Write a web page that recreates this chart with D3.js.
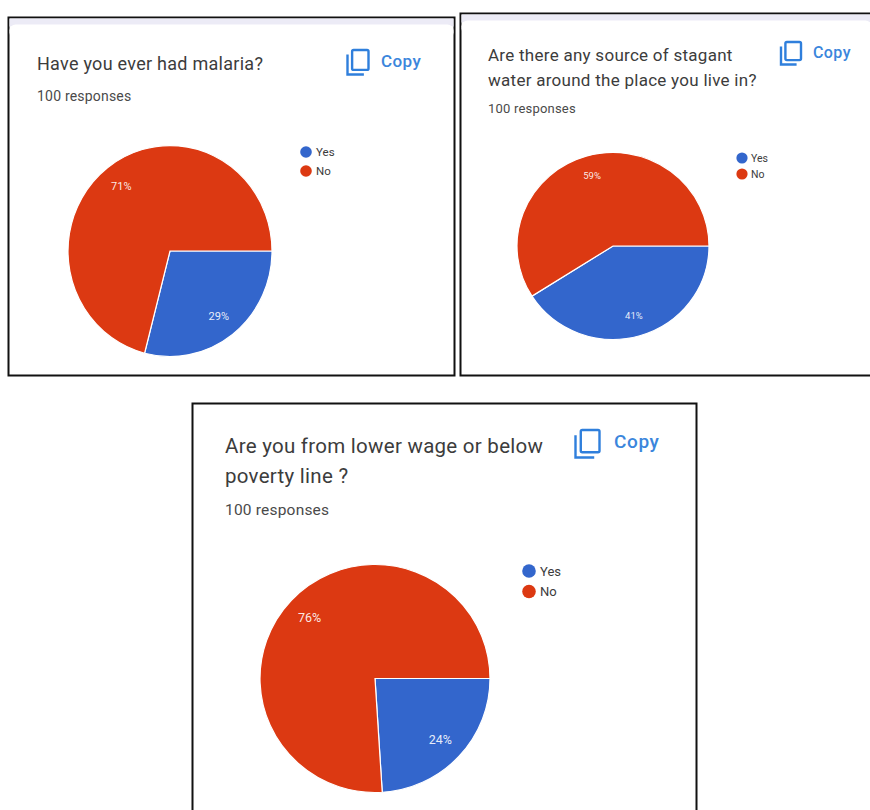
<!DOCTYPE html>
<html>
<head>
<meta charset="utf-8">
<script src="https://cdnjs.cloudflare.com/ajax/libs/d3/7.8.5/d3.min.js"></script>
<style>
html,body{margin:0;padding:0;background:#fff;overflow:hidden}
text{font-family:Roboto,sans-serif}
</style>
</head>
<body>
<svg id="chart" width="870" height="810"></svg>
<script>
// Survey answers, one list per question
const answerLabels = ["Yes", "No"];
const answerColors = ["#3366cc", "#dc3912"];
const malariaValues = [29, 71];
const stagnantValues = [41, 59];
const povertyValues = [24, 76];
const responseCaption = "100 responses";
const malariaTitle = ["Have you ever had malaria?"];
const stagnantTitle = ["Are there any source of stagant", "water around the place you live in?"];
const povertyTitle = ["Are you from lower wage or below", "poverty line ?"];

const panels = [
  {values: malariaValues, title: malariaTitle,
   frame: [8.5, 17.5, 446, 358], band: 8,
   titleX: 37, titleY: [70], titleSize: 18, capY: 101, capSize: 14,
   copy: [347.5, 50, 21, 24.5], copyText: [381, 67], copySize: 17, copySpacing: 0.4,
   pie: [170, 251, 102, 105.5], labelSize: 11,
   legend: [306, 152, 19, 5.8, 316, 11.5]},
  {values: stagnantValues, title: stagnantTitle,
   frame: [460.5, 13.5, 412, 362], band: 8,
   titleX: 488, titleY: [61, 86], titleSize: 17, capY: 113, capSize: 13,
   copy: [781, 42, 20, 22.5], copyText: [813, 58], copySize: 16, copySpacing: 0.4,
   pie: [613, 246, 96, 93.5], labelSize: 9.5,
   legend: [742, 158, 16, 5.6, 751, 10.5]},
  {values: povertyValues, title: povertyTitle,
   frame: [192.5, 403.5, 504, 420], band: 0,
   titleX: 225, titleY: [453, 483], titleSize: 20.5, capY: 515, capSize: 15.5,
   copy: [575.5, 430, 24, 27.5], copyText: [614, 448], copySize: 19, copySpacing: 0.6,
   pie: [375, 678.5, 115, 114], labelSize: 12.5,
   legend: [529, 571, 20.5, 6.8, 540, 13]}
];

const svg = d3.select("#chart");
const pieLayout = d3.pie().sort(null).startAngle(Math.PI / 2).endAngle(Math.PI * 2.5);
const unitArc = d3.arc().innerRadius(0).outerRadius(1);
const labelArc = d3.arc().innerRadius(0.78).outerRadius(0.78);

panels.forEach(p => {
  const g = svg.append("g");
  const [fx, fy, fw, fh] = p.frame;

  // card frame with the pale band above the white sheet
  g.append("rect").attr("x", fx).attr("y", fy).attr("width", fw).attr("height", fh)
    .attr("fill", "#ffffff").attr("stroke", "#111111").attr("stroke-width", 2);
  if (p.band) {
    g.append("rect").attr("x", fx + 1).attr("y", fy + 1).attr("width", fw - 2).attr("height", p.band)
      .attr("fill", "#ecebf6");
    g.append("rect").attr("x", fx + 1).attr("y", fy + p.band - 1).attr("width", fw - 2).attr("height", 14)
      .attr("rx", 6).attr("fill", "#ffffff");
  }

  // heading and caption
  p.title.forEach((line, i) => {
    g.append("text").attr("x", p.titleX).attr("y", p.titleY[i])
      .attr("font-size", p.titleSize).attr("fill", "#3c3c3c").attr("letter-spacing", 0.27).text(line);
  });
  g.append("text").attr("x", p.titleX).attr("y", p.capY)
    .attr("font-size", p.capSize).attr("fill", "#4a4a4a").attr("letter-spacing", 0.2).text(responseCaption);

  // copy icon and its label
  const [cx, cy, cw, ch] = p.copy;
  const inset = cw * 0.22;
  g.append("rect").attr("x", cx + inset).attr("y", cy).attr("width", cw - inset).attr("height", ch - inset)
    .attr("rx", 1.5).attr("fill", "none").attr("stroke", "#2f7fdc").attr("stroke-width", 2.4);
  g.append("path")
    .attr("d", d3.line()([[cx, cy + inset], [cx, cy + ch], [cx + cw - inset, cy + ch]]))
    .attr("fill", "none").attr("stroke", "#2f7fdc").attr("stroke-width", 2.4);
  g.append("text").attr("x", p.copyText[0]).attr("y", p.copyText[1])
    .attr("font-size", p.copySize).attr("letter-spacing", p.copySpacing)
    .attr("font-weight", 500).attr("fill", "#3b86dc").text("Copy");

  // slices are drawn on a unit circle and stretched to the card's pie size
  const [px, py, rx, ry] = p.pie;
  const slices = pieLayout(p.values);
  const pieGroup = g.append("g").attr("transform", `translate(${px},${py}) scale(${rx},${ry})`);
  pieGroup.selectAll("path").data(slices).join("path")
    .attr("d", unitArc)
    .attr("fill", (d, i) => answerColors[i])
    .attr("stroke", "#ffffff").attr("stroke-width", 1.2)
    .attr("vector-effect", "non-scaling-stroke");

  g.selectAll("text.pct").data(slices).join("text").attr("class", "pct")
    .attr("x", d => px + labelArc.centroid(d)[0] * rx)
    .attr("y", d => py + labelArc.centroid(d)[1] * ry)
    .attr("dy", "0.35em").attr("text-anchor", "middle")
    .attr("font-size", p.labelSize).attr("fill", "#ffffff").attr("fill-opacity", 0.9)
    .text(d => d.value + "%");

  // legend
  const [lx, ly, step, r, tx, size] = p.legend;
  answerLabels.forEach((name, i) => {
    g.append("circle").attr("cx", lx).attr("cy", ly + i * step).attr("r", r).attr("fill", answerColors[i]);
    g.append("text").attr("x", tx).attr("y", ly + i * step).attr("dy", "0.35em")
      .attr("font-size", size).attr("fill", "#3c3c3c").text(name);
  });
});
</script>
</body>
</html>
